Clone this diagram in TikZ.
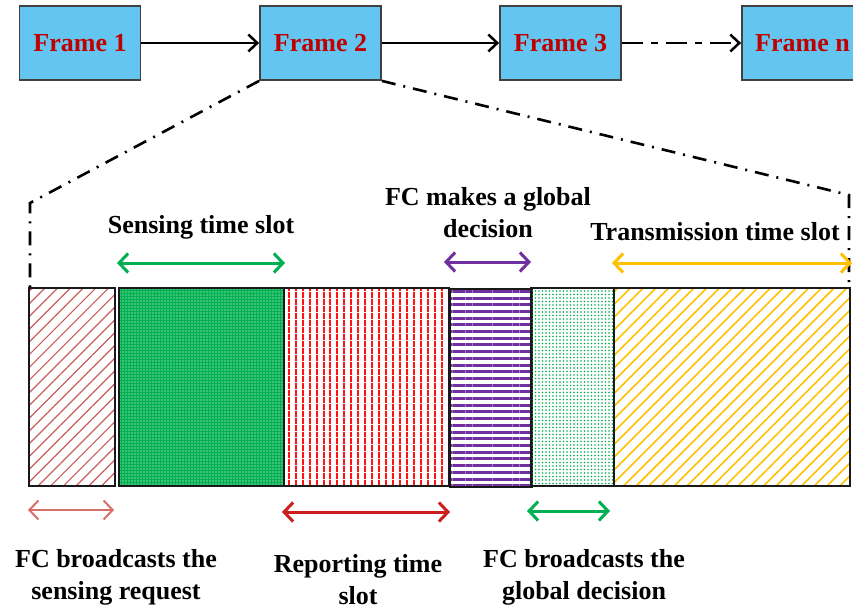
\documentclass[tikz,border=0pt]{standalone}
\usepackage{fontspec}
\setmainfont{Liberation Serif}
\usetikzlibrary{arrows.meta,patterns.meta}

\definecolor{frameblue}{RGB}{100,198,240}
\definecolor{framered}{RGB}{192,0,0}
\definecolor{offgreen}{RGB}{0,176,80}
\definecolor{offpurple}{RGB}{112,48,160}
\definecolor{offyellow}{RGB}{255,192,0}
\definecolor{brick}{RGB}{200,95,90}
\definecolor{brickarrow}{RGB}{215,110,105}
\definecolor{repred}{RGB}{205,30,30}
\definecolor{vred}{RGB}{255,20,20}

\begin{document}
\begin{tikzpicture}[x=1pt,y=-1pt,
  framebox/.style={draw=black!75, line width=1.8pt, fill=frameblue,
    minimum width=121pt, minimum height=74pt, inner sep=0pt,
    font=\fontsize{26}{30}\selectfont\bfseries, text=framered},
  flow/.style={line width=2.5pt, -{Straight Barb[length=9pt,width=17pt,line width=2.5pt]}},
  zoomline/.style={line width=2.6pt, dash pattern=on 14pt off 8pt on 2pt off 8pt},
  slot/.style={draw=black!90, line width=2pt, anchor=north west,
    minimum height=198pt, inner sep=0pt},
  lbl/.style={font=\fontsize{26}{32}\selectfont\bfseries, align=center, inner sep=0pt},
  span/.style={line width=3pt, {Straight Barb[length=9pt,width=19pt]}-{Straight Barb[length=9pt,width=19pt]}},
]
\useasboundingbox (0,0) rectangle (853,613);

% frames
\node[framebox] (f1) at (80,43) {Frame 1};
\node[framebox] (f2) at (320.5,43) {Frame 2};
\node[framebox] (f3) at (560.5,43) {Frame 3};
\node[framebox] (fn) at (802.5,43) {Frame n};

\draw[flow] (f1) -- (f2);
\draw[flow] (f2) -- (f3);
\draw[flow, dash pattern=on 21pt off 8pt on 7pt off 8pt] (f3) -- (fn);

% slots
\node[slot, minimum width=86pt,
  pattern={Lines[angle=45,distance=9pt,line width=1.2pt]}, pattern color=brick] (s1) at (28,287) {};
\node[slot, minimum width=165pt, preaction={fill=offgreen},
  pattern={Dots[radius=0.6pt,distance=3pt]}, pattern color=white] (s2) at (118,287) {};
\node[slot, minimum width=165pt,
  pattern={Lines[angle=90,distance=6.5pt,line width=2pt]}, pattern color=vred] (s3) at (283,287) {};
\node[slot, minimum width=82pt,
  pattern={Lines[angle=0,distance=6.7pt,line width=3pt]}, pattern color=offpurple] (s4) at (448,287) {};
\node[slot, minimum width=83pt,
  pattern={Dots[radius=0.8pt,distance=3.5pt]}, pattern color=offgreen] (s5) at (530,287) {};
\node[slot, minimum width=236pt,
  pattern={Lines[angle=45,distance=9pt,line width=1.6pt]}, pattern color=offyellow] (s6) at (613,287) {};

% zoom lines
\coordinate (zl) at (30,203);
\coordinate (zr) at (849,195);
\draw[zoomline] (f2.south west) -- (zl) -- (s1.north west -| zl);
\draw[zoomline] (f2.south east) -- (zr) -- (s6.north east -| zr);

% top spans
\coordinate (a1) at (117,263); \coordinate (a2) at (285,263);
\coordinate (b1) at (444,262); \coordinate (b2) at (531,262);
\coordinate (c1) at (612,263); \coordinate (c2) at (852,263);
\draw[span, offgreen] (a1) -- (a2);
\draw[span, offpurple] (b1) -- (b2);
\draw[span, offyellow] (c1) -- (c2);

% bottom spans
\coordinate (d1) at (28,510); \coordinate (d2) at (114,510);
\coordinate (e1) at (282,512); \coordinate (e2) at (450,512);
\coordinate (g1) at (527,511); \coordinate (g2) at (610,511);
\draw[span, line width=2pt, brickarrow] (d1) -- (d2);
\draw[span, repred] (e1) -- (e2);
\draw[span, offgreen] (g1) -- (g2);

% labels
\node[lbl] (lsense) at (201,227) {Sensing time slot};
\node[lbl] (ldec) at (488,213) {FC makes a global\\decision};
\node[lbl] (ltx) at (715,232) {Transmission time slot};
\node[lbl] (lreq) at (116,577) {FC broadcasts the\\sensing request};
\node[lbl] (lrep) at (358,580) {Reporting time\\slot};
\node[lbl] (lglob) at (584,577) {FC broadcasts the\\global decision};
\end{tikzpicture}
\end{document}
